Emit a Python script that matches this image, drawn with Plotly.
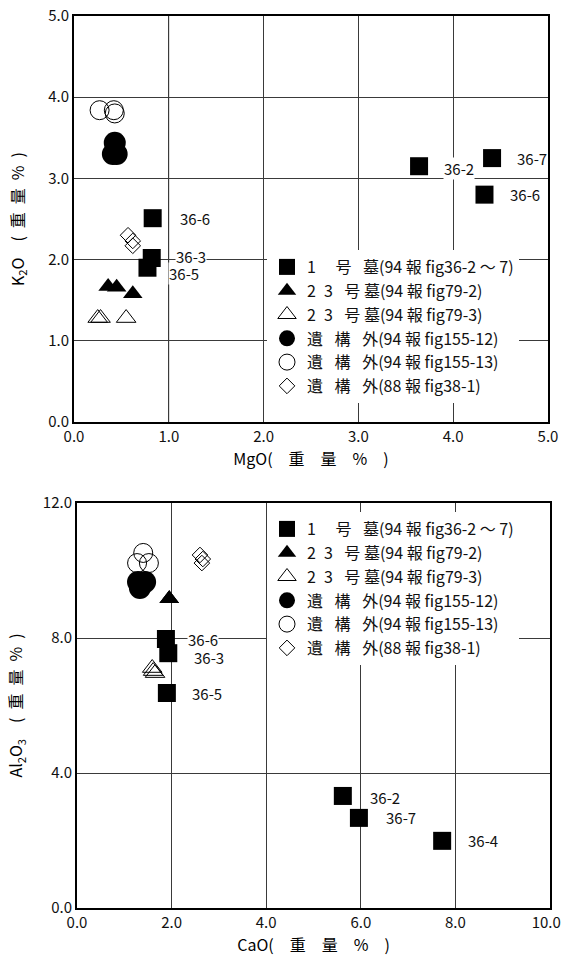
import plotly.graph_objects as go

FONT = "Noto Sans CJK JP"

# ---------------- data: top chart (MgO vs K2O, wt%) ----------------
sq_mgo = [3.64, 4.41, 4.33, 0.83, 0.775, 0.82]
sq_k2o = [3.15, 3.25, 2.80, 2.51, 1.90, 2.02]
sq_top_labels = ["36-2", "36-7", "36-6", "36-6", "36-5", "36-3"]

tri_f_mgo = [0.36, 0.45, 0.62]
tri_f_k2o = [1.67, 1.66, 1.58]
tri_o_mgo = [0.25, 0.28, 0.55]
tri_o_k2o = [1.28, 1.28, 1.28]
cir_f_mgo = [0.43, 0.41, 0.45]
cir_f_k2o = [3.44, 3.30, 3.30]
cir_o_mgo = [0.27, 0.42, 0.43]
cir_o_k2o = [3.84, 3.84, 3.80]
dia_mgo = [0.57, 0.62, 0.62]
dia_k2o = [2.30, 2.23, 2.17]

# ---------------- data: bottom chart (CaO vs Al2O3, wt%) ----------------
sq_cao = [1.88, 1.90, 1.93, 5.62, 5.96, 7.72]
sq_al = [7.97, 6.37, 7.55, 3.32, 2.67, 1.99]
sq_bot_labels = ["36-6", "36-5", "36-3", "36-2", "36-7", "36-4"]

tri_f_cao = [1.95, 1.95, 1.95]
tri_f_al = [9.16, 9.16, 9.16]
tri_o_cao = [1.59, 1.61, 1.65]
tri_o_al = [7.11, 7.02, 6.96]
cir_f_cao = [1.33, 1.44, 1.29]
cir_f_al = [9.48, 9.66, 9.66]
cir_o_cao = [1.40, 1.27, 1.52]
cir_o_al = [10.52, 10.22, 10.22]
dia_cao = [2.60, 2.66, 2.64]
dia_al = [10.46, 10.34, 10.22]

legend_names = [
    "1\u3000 号\u2002 墓(94 報 fig36-2 ～ 7)",
    "2\u20023\u2002 号 墓(94 報 fig79-2)",
    "2\u20023\u2002 号 墓(94 報 fig79-3)",
    "遺\u2002 構\u2002 外(94 報 fig155-12)",
    "遺\u2002 構\u2002 外(94 報 fig155-13)",
    "遺\u2002 構\u2002 外(88 報 fig38-1)",
]

top_ticks = [0, 1, 2, 3, 4, 5]
bot_xticks = [0, 2, 4, 6, 8, 10]
bot_yticks = [0, 4, 8, 12]
# last bottom x label nudged left (padding) so it stays inside the page, as in the reference
bot_xticktext = [f"{v:.1f}" for v in bot_xticks[:-1]] + [f"{bot_xticks[-1]:.1f}\u2002"]

# ---------------- styles ----------------
styles = [
    dict(symbol="square", size=18, color="black", line=dict(width=0)),
    dict(symbol="triangle-up", size=17, color="black", line=dict(width=0)),
    dict(symbol="triangle-up-open", size=17, color="black", line=dict(width=1, color="black")),
    dict(symbol="circle", size=22, color="black", line=dict(width=0)),
    dict(symbol="circle-open", size=19, color="black", line=dict(width=1, color="black")),
    dict(symbol="diamond-open", size=12, color="black", line=dict(width=1, color="black")),
]

top_series = [(sq_mgo, sq_k2o), (tri_f_mgo, tri_f_k2o), (tri_o_mgo, tri_o_k2o),
              (cir_f_mgo, cir_f_k2o), (cir_o_mgo, cir_o_k2o), (dia_mgo, dia_k2o)]
bot_series = [(sq_cao, sq_al), (tri_f_cao, tri_f_al), (tri_o_cao, tri_o_al),
              (cir_f_cao, cir_f_al), (cir_o_cao, cir_o_al), (dia_cao, dia_al)]

fig = go.Figure()

for legend_id, series, xa, ya in [("legend", top_series, "x", "y"),
                                  ("legend2", bot_series, "x2", "y2")]:
    for i in range(6):
        xs, ys = series[i]
        fig.add_trace(go.Scatter(
            x=xs, y=ys, mode="markers", name=legend_names[i],
            marker=styles[i], xaxis=xa, yaxis=ya, legend=legend_id,
            showlegend=True, hoverinfo="x+y",
        ))

# label offsets (px) for the square sample labels
top_label_shift = [(24, -2), (24, 0), (25, 0), (26, 0), (21, -6), (23, 1)]
bot_label_shift = [(21, 0), (24, 0), (25, -4), (26, -2), (26, 0), (25, 0)]

annotations = []
for xs, ys, labs, shifts, xr, yr in [
    (sq_mgo, sq_k2o, sq_top_labels, top_label_shift, "x", "y"),
    (sq_cao, sq_al, sq_bot_labels, bot_label_shift, "x2", "y2"),
]:
    for xv, yv, lab, (dx, dy) in zip(xs, ys, labs, shifts):
        annotations.append(dict(
            x=xv, y=yv, xref=xr, yref=yr, text=lab, showarrow=False,
            xanchor="left", yanchor="middle", xshift=dx, yshift=dy,
            bgcolor="white", borderpad=0,
            font=dict(family=FONT, size=15, color="#111"),
        ))

# lighter grid line at MgO = 1.0 in the top chart (as in the reference)
shapes = [dict(type="line", xref="x", yref="y domain", x0=top_ticks[1], x1=top_ticks[1],
               y0=0, y1=1, line=dict(color="#aaaaaa", width=1.2), layer="below")]

W, H = 562, 960
axis_common = dict(
    showline=True, mirror=True, linecolor="black", linewidth=2,
    showgrid=True, gridcolor="#3a3a3a", gridwidth=1,
    ticks="", zeroline=False, tickformat=".1f", automargin=False,
    ticklabeloverflow="allow",
    tickfont=dict(family=FONT, size=15, color="#111"),
    title_font=dict(family=FONT, size=16, color="#000"),
)

fig.update_layout(
    width=W, height=H,
    margin=dict(l=0, r=0, t=0, b=0, autoexpand=False),
    paper_bgcolor="white", plot_bgcolor="white",
    font=dict(family=FONT, size=15, color="#111"),
    showlegend=True,
    xaxis=dict(axis_common, domain=[74 / W, 548 / W], range=[0, 5],
               tickvals=top_ticks, anchor="y",
               title=dict(text="MgO(\u3000重\u3000量\u3000%\u3000)", standoff=8)),
    yaxis=dict(axis_common, domain=[1 - 422 / H, 1 - 16 / H], range=[0, 5],
               tickvals=top_ticks, anchor="x",
               title=dict(text="K<sub>2</sub>O\u3000(\u2002重\u2002量\u2002%\u2002)", standoff=20)),
    xaxis2=dict(axis_common, domain=[77 / W, 550 / W], range=[0, 10],
                tickvals=bot_xticks, ticktext=bot_xticktext, anchor="y2",
                title=dict(text="CaO(\u3000重\u3000量\u3000%\u3000)", standoff=9)),
    yaxis2=dict(axis_common, domain=[1 - 908 / H, 1 - 503 / H], range=[0, 12],
                tickvals=bot_yticks, anchor="x2",
                title=dict(text="Al<sub>2</sub>O<sub>3</sub>\u3000(\u2002重\u2002量\u2002%\u2002)", standoff=16)),
    legend=dict(x=267 / W, y=1 - 250 / H, xanchor="left", yanchor="top",
                bgcolor="white", borderwidth=0, itemsizing="trace",
                font=dict(family=FONT, size=16, color="#111"),
                traceorder="normal", itemclick=False, itemdoubleclick=False),
    legend2=dict(x=267 / W, y=1 - 512 / H, xanchor="left", yanchor="top",
                 bgcolor="white", borderwidth=0, itemsizing="trace",
                 font=dict(family=FONT, size=16, color="#111"),
                 traceorder="normal", itemclick=False, itemdoubleclick=False),
    annotations=annotations,
    shapes=shapes,
)

fig.write_html(
    "out.html",
    config={"displayModeBar": False},
    post_script="document.body.style.margin='0px';document.body.style.overflow='hidden';",
)
